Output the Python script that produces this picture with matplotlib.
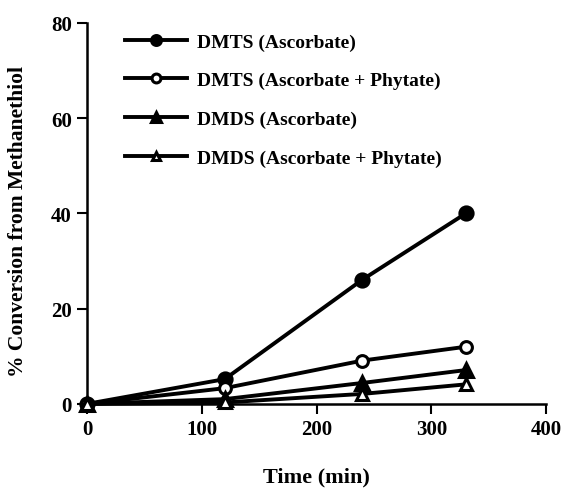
import matplotlib
matplotlib.use("Agg")
import matplotlib.pyplot as plt

time = [0, 120, 240, 330]
dmts_asc = [0, 5.2, 26.1, 40.0]
dmts_asc_phy = [0, 3.3, 9.1, 12.0]
dmds_asc = [0, 1.0, 4.4, 7.1]
dmds_asc_phy = [0, 0.3, 2.1, 4.1]
labels = ["DMTS (Ascorbate)", "DMTS (Ascorbate + Phytate)",
          "DMDS (Ascorbate)", "DMDS (Ascorbate + Phytate)"]

plt.rcParams['font.family'] = ['Liberation Serif', 'DejaVu Serif']
plt.rcParams['font.weight'] = 'bold'

fig = plt.figure(figsize=(5.63, 4.89), dpi=100)
ax = fig.add_axes([0.1545, 0.172, 0.8155, 0.779])

kw = dict(color='black', lw=2.8, mew=2.2, clip_on=False, zorder=3)
ax.plot(time, dmts_asc, marker='o', ms=9.5, mfc='black', label=labels[0], **kw)
ax.plot(time, dmts_asc_phy, marker='o', ms=8.5, mfc='white', label=labels[1], **kw)
ax.plot(time, dmds_asc, marker='^', ms=9.5, mfc='black', label=labels[2], **kw)
ax.plot(time, dmds_asc_phy, marker='^', ms=8.5, mfc='white', label=labels[3], **kw)

ax.set_xlim(0, 400)
ax.set_ylim(0, 80)
ax.set_xticks([0, 100, 200, 300, 400])
ax.set_yticks([0, 20, 40, 60, 80])
for s in ['top', 'right']:
    ax.spines[s].set_visible(False)
for s in ['left', 'bottom']:
    ax.spines[s].set_linewidth(1.8)
ax.tick_params(direction='out', length=7, width=1.5, labelsize=15, pad=4)
for lab in ax.get_xticklabels() + ax.get_yticklabels():
    lab.set_fontweight('bold')

ax.set_xlabel("Time (min)", fontsize=16, fontweight='bold', labelpad=20)
ax.set_ylabel("% Conversion from Methanethiol", fontsize=15.5, fontweight='bold')
ax.yaxis.set_label_coords(-0.128, 0.482)

leg = ax.legend(loc='upper left', bbox_to_anchor=(0.083, 0.974), frameon=False,
                borderaxespad=0, borderpad=0,
                fontsize=14, handlelength=3.2, labelspacing=1.08, handletextpad=0.5,
                markerscale=0.75)
for t in leg.get_texts():
    t.set_fontweight('bold')

fig.savefig("out.png", dpi=100)
